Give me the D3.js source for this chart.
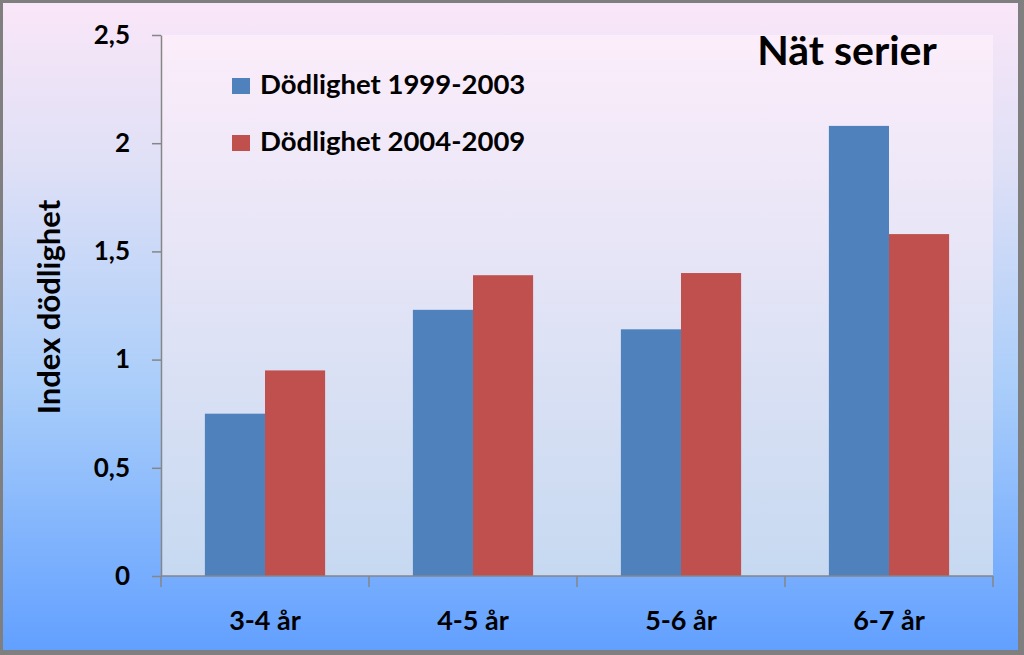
<!DOCTYPE html>
<html>
<head>
<meta charset="utf-8">
<script src="https://cdn.jsdelivr.net/npm/d3@7"></script>
<style>
  html, body { margin: 0; padding: 0; background: #7f7f7f; }
  svg { display: block; font-family: Lato, "Open Sans", sans-serif; font-weight: bold; }
</style>
</head>
<body>
<div id="chart"></div>
<script>
// data
var categories = ['3-4 år', '4-5 år', '5-6 år', '6-7 år'];
var seriesNames = ['Dödlighet 1999-2003', 'Dödlighet 2004-2009'];
var mort1999 = [0.75, 1.23, 1.14, 2.08];
var mort2004 = [0.95, 1.39, 1.40, 1.58];
var yTicks = [0, 0.5, 1, 1.5, 2, 2.5];
var colors = ['#4f81bd', '#c0504d'];

var width = 1024, height = 655;
var margin = { top: 35, right: 31, bottom: 79, left: 161 };
var innerW = width - margin.left - margin.right;
var innerH = height - margin.top - margin.bottom;

var data = categories.map(function(c, i) {
  return { cat: c, values: [mort1999[i], mort2004[i]] };
});

var svg = d3.select('#chart').append('svg')
  .attr('width', width)
  .attr('height', height);

var defs = svg.append('defs');
var outerGrad = defs.append('linearGradient')
  .attr('id', 'outerGrad').attr('x1', 0).attr('y1', 0).attr('x2', 0).attr('y2', 1);
outerGrad.append('stop').attr('offset', '0%').attr('stop-color', '#fae6f8');
outerGrad.append('stop').attr('offset', '25%').attr('stop-color', '#dfe0f6');
outerGrad.append('stop').attr('offset', '60%').attr('stop-color', '#a9cdfa');
outerGrad.append('stop').attr('offset', '100%').attr('stop-color', '#62a0ff');

var plotGrad = defs.append('linearGradient')
  .attr('id', 'plotGrad').attr('x1', 0).attr('y1', 0).attr('x2', 0).attr('y2', 1);
plotGrad.append('stop').attr('offset', '0%').attr('stop-color', '#fcedfa');
plotGrad.append('stop').attr('offset', '100%').attr('stop-color', '#c6d9f1');

// frame
svg.append('rect')
  .attr('x', 0).attr('y', 0).attr('width', width).attr('height', height)
  .style('fill', '#7f7f7f');
svg.append('rect')
  .attr('x', 3).attr('y', 3).attr('width', 1015).attr('height', 647)
  .style('fill', 'url(#outerGrad)');

var g = svg.append('g')
  .attr('transform', 'translate(' + margin.left + ',' + margin.top + ')');

g.append('rect')
  .attr('width', innerW).attr('height', innerH)
  .style('fill', 'url(#plotGrad)');

var x0 = d3.scaleBand()
  .domain(categories)
  .range([0, innerW])
  .paddingInner(0.422)
  .paddingOuter(0.211);

var x1 = d3.scaleBand()
  .domain([0, 1])
  .range([0, x0.bandwidth()]);

var y = d3.scaleLinear()
  .domain([0, 2.5])
  .range([innerH, 0]);

var fmt = function(d) { return String(d).replace('.', ','); };

// bars
var groups = g.selectAll('.group')
  .data(data)
  .enter().append('g')
  .attr('class', 'group')
  .attr('transform', function(d) { return 'translate(' + x0(d.cat) + ',0)'; });

groups.selectAll('rect')
  .data(function(d) { return d.values; })
  .enter().append('rect')
  .attr('x', function(d, i) { return x1(i); })
  .attr('y', function(d) { return y(d); })
  .attr('width', x1.bandwidth())
  .attr('height', function(d) { return innerH - y(d); })
  .style('fill', function(d, i) { return colors[i]; });

// y axis
var yAxis = d3.axisLeft(y)
  .tickValues(yTicks)
  .tickFormat(fmt)
  .tickSize(9)
  .tickSizeOuter(0)
  .tickPadding(22);

var yG = g.append('g').attr('class', 'y-axis').call(yAxis);
yG.select('.domain').style('stroke', '#868686').style('stroke-width', 1.5);
yG.selectAll('.tick line').style('stroke', '#868686').style('stroke-width', 1.5);
yG.selectAll('.tick text')
  .style('font-size', '26px')
  .style('font-family', 'Lato, sans-serif')
  .style('font-weight', 'bold')
  .style('fill', '#000');

// x axis: ticks on band boundaries
var xAxisG = g.append('g')
  .attr('transform', 'translate(0,' + innerH + ')');
xAxisG.append('line')
  .attr('x1', 0).attr('x2', innerW)
  .style('stroke', '#868686').style('stroke-width', 1.5);
var step = x0.step();
var bounds = d3.range(categories.length + 1).map(function(i) {
  return x0(categories[0]) - x0.step() * x0.paddingInner() / 2 + i * step;
});
xAxisG.selectAll('.xtick')
  .data(bounds)
  .enter().append('line')
  .attr('class', 'xtick')
  .attr('x1', function(d) { return d; })
  .attr('x2', function(d) { return d; })
  .attr('y1', 0).attr('y2', 11)
  .style('stroke', '#868686').style('stroke-width', 1.5);
xAxisG.selectAll('.xlabel')
  .data(categories)
  .enter().append('text')
  .attr('class', 'xlabel')
  .attr('x', function(d) { return x0(d) + x0.bandwidth() / 2; })
  .attr('y', 54)
  .attr('text-anchor', 'middle')
  .style('font-size', '27px')
  .style('fill', '#000')
  .text(function(d) { return d; });

// y title
svg.append('text')
  .attr('transform', 'translate(60,307) rotate(-90)')
  .attr('text-anchor', 'middle')
  .style('font-size', '31px')
  .style('fill', '#000')
  .text('Index dödlighet');

// chart title
svg.append('text')
  .attr('x', 847).attr('y', 65)
  .attr('text-anchor', 'middle')
  .style('font-size', '41px')
  .style('fill', '#000')
  .text('Nät serier');

// legend
var legend = svg.selectAll('.legend')
  .data(seriesNames)
  .enter().append('g')
  .attr('class', 'legend')
  .attr('transform', function(d, i) { return 'translate(232,' + (78 + i * 57) + ')'; });

legend.append('rect')
  .attr('width', 18).attr('height', 16)
  .style('fill', function(d, i) { return colors[i]; });

legend.append('text')
  .attr('x', 28)
  .attr('y', 16)
  .style('font-size', '27.5px')
  .style('fill', '#000')
  .text(function(d) { return d; });
</script>
</body>
</html>
